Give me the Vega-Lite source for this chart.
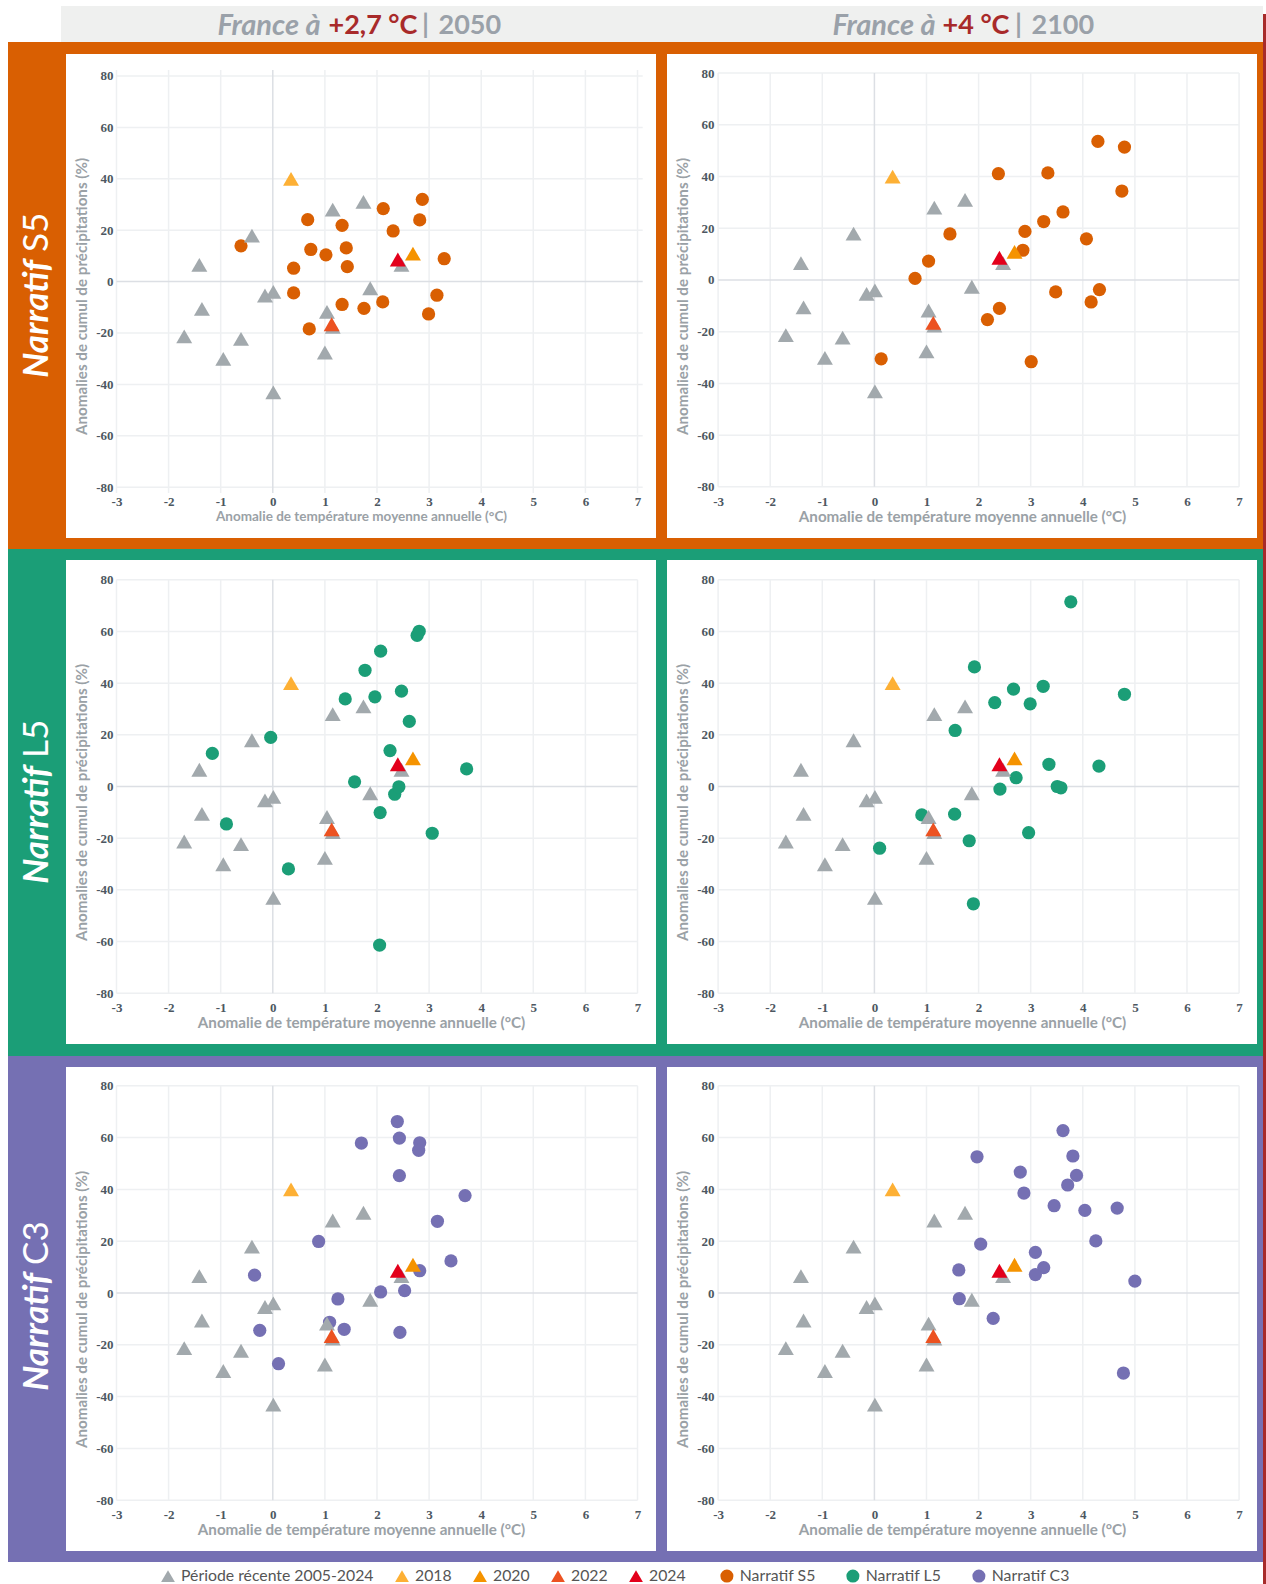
{
  "$schema": "https://vega.github.io/schema/vega-lite/v6.json",
  "padding": {"left": 8, "top": 3, "right": 0, "bottom": 0},
  "background": "white",
  "spacing": 0,
  "datasets": {
    "one": [{"t": ""}],
    "hist": [
      {"x": -0.40, "y": 17.9, "serie": "Période récente 2005-2024"},
      {"x": -1.41, "y": 6.5, "serie": "Période récente 2005-2024"},
      {"x": -1.36, "y": -10.6, "serie": "Période récente 2005-2024"},
      {"x": -1.70, "y": -21.3, "serie": "Période récente 2005-2024"},
      {"x": -0.61, "y": -22.3, "serie": "Période récente 2005-2024"},
      {"x": -0.95, "y": -30.1, "serie": "Période récente 2005-2024"},
      {"x": 0.01, "y": -43.1, "serie": "Période récente 2005-2024"},
      {"x": -0.15, "y": -5.4, "serie": "Période récente 2005-2024"},
      {"x": 0.01, "y": -4.0, "serie": "Période récente 2005-2024"},
      {"x": 1.15, "y": 28.0, "serie": "Période récente 2005-2024"},
      {"x": 1.74, "y": 31.0, "serie": "Période récente 2005-2024"},
      {"x": 1.87, "y": -2.6, "serie": "Période récente 2005-2024"},
      {"x": 1.04, "y": -11.8, "serie": "Période récente 2005-2024"},
      {"x": 1.00, "y": -27.6, "serie": "Période récente 2005-2024"},
      {"x": 2.47, "y": 6.5, "serie": "Période récente 2005-2024"},
      {"x": 1.15, "y": -17.6, "serie": "Période récente 2005-2024"},
      {"x": 0.35, "y": 40.0, "serie": "2018"},
      {"x": 2.69, "y": 10.9, "serie": "2020"},
      {"x": 1.13, "y": -16.6, "serie": "2022"},
      {"x": 2.40, "y": 8.6, "serie": "2024"}
    ],
    "s5a": [
      {"x": -0.61, "y": 13.9, "serie": "Narratif S5"},
      {"x": 0.67, "y": 24.1, "serie": "Narratif S5"},
      {"x": 1.33, "y": 21.9, "serie": "Narratif S5"},
      {"x": 2.12, "y": 28.4, "serie": "Narratif S5"},
      {"x": 2.87, "y": 32.0, "serie": "Narratif S5"},
      {"x": 2.82, "y": 24.0, "serie": "Narratif S5"},
      {"x": 2.31, "y": 19.7, "serie": "Narratif S5"},
      {"x": 0.73, "y": 12.5, "serie": "Narratif S5"},
      {"x": 1.02, "y": 10.4, "serie": "Narratif S5"},
      {"x": 1.41, "y": 13.1, "serie": "Narratif S5"},
      {"x": 1.43, "y": 5.8, "serie": "Narratif S5"},
      {"x": 0.40, "y": 5.2, "serie": "Narratif S5"},
      {"x": 3.29, "y": 8.9, "serie": "Narratif S5"},
      {"x": 0.40, "y": -4.4, "serie": "Narratif S5"},
      {"x": 1.33, "y": -8.9, "serie": "Narratif S5"},
      {"x": 1.75, "y": -10.4, "serie": "Narratif S5"},
      {"x": 2.11, "y": -7.9, "serie": "Narratif S5"},
      {"x": 3.15, "y": -5.3, "serie": "Narratif S5"},
      {"x": 2.99, "y": -12.6, "serie": "Narratif S5"},
      {"x": 0.70, "y": -18.4, "serie": "Narratif S5"}
    ],
    "s5b": [
      {"x": 4.29, "y": 53.6, "serie": "Narratif S5"},
      {"x": 4.80, "y": 51.4, "serie": "Narratif S5"},
      {"x": 2.38, "y": 41.1, "serie": "Narratif S5"},
      {"x": 3.33, "y": 41.4, "serie": "Narratif S5"},
      {"x": 4.75, "y": 34.4, "serie": "Narratif S5"},
      {"x": 3.62, "y": 26.3, "serie": "Narratif S5"},
      {"x": 3.25, "y": 22.6, "serie": "Narratif S5"},
      {"x": 2.89, "y": 18.8, "serie": "Narratif S5"},
      {"x": 1.45, "y": 17.8, "serie": "Narratif S5"},
      {"x": 2.85, "y": 11.5, "serie": "Narratif S5"},
      {"x": 1.04, "y": 7.3, "serie": "Narratif S5"},
      {"x": 4.07, "y": 15.9, "serie": "Narratif S5"},
      {"x": 0.78, "y": 0.6, "serie": "Narratif S5"},
      {"x": 3.48, "y": -4.6, "serie": "Narratif S5"},
      {"x": 4.32, "y": -3.7, "serie": "Narratif S5"},
      {"x": 4.16, "y": -8.5, "serie": "Narratif S5"},
      {"x": 2.40, "y": -11.0, "serie": "Narratif S5"},
      {"x": 2.17, "y": -15.3, "serie": "Narratif S5"},
      {"x": 0.13, "y": -30.5, "serie": "Narratif S5"},
      {"x": 3.01, "y": -31.6, "serie": "Narratif S5"}
    ],
    "l5a": [
      {"x": 2.81, "y": 60.1, "serie": "Narratif L5"},
      {"x": 2.77, "y": 58.5, "serie": "Narratif L5"},
      {"x": 2.07, "y": 52.4, "serie": "Narratif L5"},
      {"x": 1.77, "y": 45.0, "serie": "Narratif L5"},
      {"x": 2.47, "y": 36.9, "serie": "Narratif L5"},
      {"x": 1.39, "y": 33.9, "serie": "Narratif L5"},
      {"x": 1.96, "y": 34.7, "serie": "Narratif L5"},
      {"x": 2.62, "y": 25.2, "serie": "Narratif L5"},
      {"x": -0.04, "y": 19.0, "serie": "Narratif L5"},
      {"x": -1.16, "y": 12.8, "serie": "Narratif L5"},
      {"x": 2.25, "y": 13.9, "serie": "Narratif L5"},
      {"x": 3.72, "y": 6.8, "serie": "Narratif L5"},
      {"x": 1.57, "y": 1.8, "serie": "Narratif L5"},
      {"x": 2.34, "y": -3.0, "serie": "Narratif L5"},
      {"x": 2.42, "y": -0.1, "serie": "Narratif L5"},
      {"x": 2.06, "y": -10.1, "serie": "Narratif L5"},
      {"x": -0.89, "y": -14.5, "serie": "Narratif L5"},
      {"x": 3.06, "y": -18.1, "serie": "Narratif L5"},
      {"x": 0.30, "y": -31.9, "serie": "Narratif L5"},
      {"x": 2.05, "y": -61.4, "serie": "Narratif L5"}
    ],
    "l5b": [
      {"x": 3.77, "y": 71.5, "serie": "Narratif L5"},
      {"x": 1.92, "y": 46.3, "serie": "Narratif L5"},
      {"x": 2.67, "y": 37.7, "serie": "Narratif L5"},
      {"x": 3.24, "y": 38.8, "serie": "Narratif L5"},
      {"x": 2.31, "y": 32.5, "serie": "Narratif L5"},
      {"x": 2.99, "y": 32.0, "serie": "Narratif L5"},
      {"x": 4.80, "y": 35.7, "serie": "Narratif L5"},
      {"x": 1.55, "y": 21.7, "serie": "Narratif L5"},
      {"x": 3.35, "y": 8.6, "serie": "Narratif L5"},
      {"x": 4.31, "y": 7.9, "serie": "Narratif L5"},
      {"x": 2.72, "y": 3.4, "serie": "Narratif L5"},
      {"x": 2.41, "y": -1.0, "serie": "Narratif L5"},
      {"x": 3.51, "y": 0.0, "serie": "Narratif L5"},
      {"x": 3.58, "y": -0.5, "serie": "Narratif L5"},
      {"x": 0.91, "y": -11.0, "serie": "Narratif L5"},
      {"x": 1.54, "y": -10.7, "serie": "Narratif L5"},
      {"x": 1.82, "y": -21.0, "serie": "Narratif L5"},
      {"x": 2.96, "y": -17.9, "serie": "Narratif L5"},
      {"x": 0.10, "y": -23.9, "serie": "Narratif L5"},
      {"x": 1.90, "y": -45.4, "serie": "Narratif L5"}
    ],
    "c3a": [
      {"x": 2.39, "y": 66.2, "serie": "Narratif C3"},
      {"x": 2.43, "y": 59.8, "serie": "Narratif C3"},
      {"x": 1.70, "y": 57.9, "serie": "Narratif C3"},
      {"x": 2.82, "y": 58.0, "serie": "Narratif C3"},
      {"x": 2.80, "y": 55.1, "serie": "Narratif C3"},
      {"x": 2.43, "y": 45.3, "serie": "Narratif C3"},
      {"x": 3.69, "y": 37.6, "serie": "Narratif C3"},
      {"x": 3.16, "y": 27.7, "serie": "Narratif C3"},
      {"x": 0.88, "y": 19.9, "serie": "Narratif C3"},
      {"x": 3.42, "y": 12.4, "serie": "Narratif C3"},
      {"x": -0.35, "y": 6.9, "serie": "Narratif C3"},
      {"x": 2.82, "y": 8.6, "serie": "Narratif C3"},
      {"x": 2.07, "y": 0.4, "serie": "Narratif C3"},
      {"x": 2.53, "y": 0.9, "serie": "Narratif C3"},
      {"x": 1.25, "y": -2.3, "serie": "Narratif C3"},
      {"x": 1.09, "y": -11.3, "serie": "Narratif C3"},
      {"x": 1.37, "y": -14.0, "serie": "Narratif C3"},
      {"x": -0.25, "y": -14.4, "serie": "Narratif C3"},
      {"x": 2.44, "y": -15.2, "serie": "Narratif C3"},
      {"x": 0.11, "y": -27.3, "serie": "Narratif C3"}
    ],
    "c3b": [
      {"x": 3.62, "y": 62.7, "serie": "Narratif C3"},
      {"x": 1.97, "y": 52.6, "serie": "Narratif C3"},
      {"x": 3.81, "y": 52.9, "serie": "Narratif C3"},
      {"x": 2.80, "y": 46.7, "serie": "Narratif C3"},
      {"x": 3.88, "y": 45.4, "serie": "Narratif C3"},
      {"x": 3.71, "y": 41.7, "serie": "Narratif C3"},
      {"x": 2.87, "y": 38.6, "serie": "Narratif C3"},
      {"x": 3.45, "y": 33.7, "serie": "Narratif C3"},
      {"x": 4.04, "y": 31.9, "serie": "Narratif C3"},
      {"x": 4.66, "y": 32.8, "serie": "Narratif C3"},
      {"x": 4.25, "y": 20.1, "serie": "Narratif C3"},
      {"x": 2.04, "y": 18.9, "serie": "Narratif C3"},
      {"x": 3.09, "y": 15.7, "serie": "Narratif C3"},
      {"x": 1.62, "y": 8.9, "serie": "Narratif C3"},
      {"x": 3.25, "y": 9.8, "serie": "Narratif C3"},
      {"x": 3.09, "y": 7.1, "serie": "Narratif C3"},
      {"x": 5.00, "y": 4.6, "serie": "Narratif C3"},
      {"x": 1.63, "y": -2.2, "serie": "Narratif C3"},
      {"x": 2.28, "y": -9.8, "serie": "Narratif C3"},
      {"x": 4.78, "y": -30.9, "serie": "Narratif C3"}
    ],
    "grid": [
      {"x": -3, "x2": -3, "y": -80, "y2": 80}, {"x": -2, "x2": -2, "y": -80, "y2": 80},
      {"x": -1, "x2": -1, "y": -80, "y2": 80}, {"x": 1, "x2": 1, "y": -80, "y2": 80},
      {"x": 2, "x2": 2, "y": -80, "y2": 80}, {"x": 3, "x2": 3, "y": -80, "y2": 80},
      {"x": 4, "x2": 4, "y": -80, "y2": 80}, {"x": 5, "x2": 5, "y": -80, "y2": 80},
      {"x": 6, "x2": 6, "y": -80, "y2": 80}, {"x": 7, "x2": 7, "y": -80, "y2": 80},
      {"x": -3, "x2": 7, "y": -80, "y2": -80}, {"x": -3, "x2": 7, "y": -60, "y2": -60},
      {"x": -3, "x2": 7, "y": -40, "y2": -40}, {"x": -3, "x2": 7, "y": -20, "y2": -20},
      {"x": -3, "x2": 7, "y": 20, "y2": 20}, {"x": -3, "x2": 7, "y": 40, "y2": 40},
      {"x": -3, "x2": 7, "y": 60, "y2": 60}, {"x": -3, "x2": 7, "y": 80, "y2": 80},
      {"x": 0, "x2": 0, "y": -80, "y2": 80}, {"x": -3, "x2": 7, "y": 0, "y2": 0}
    ],
    "gridWide": [
      {"x": -3, "x2": -3, "y": -82.3, "y2": 82.3}, {"x": -2, "x2": -2, "y": -82.3, "y2": 82.3},
      {"x": -1, "x2": -1, "y": -82.3, "y2": 82.3}, {"x": 1, "x2": 1, "y": -82.3, "y2": 82.3},
      {"x": 2, "x2": 2, "y": -82.3, "y2": 82.3}, {"x": 3, "x2": 3, "y": -82.3, "y2": 82.3},
      {"x": 4, "x2": 4, "y": -82.3, "y2": 82.3}, {"x": 5, "x2": 5, "y": -82.3, "y2": 82.3},
      {"x": 6, "x2": 6, "y": -82.3, "y2": 82.3}, {"x": 7, "x2": 7, "y": -82.3, "y2": 82.3},
      {"x": -3, "x2": 7.1, "y": -80, "y2": -80}, {"x": -3, "x2": 7.1, "y": -60, "y2": -60},
      {"x": -3, "x2": 7.1, "y": -40, "y2": -40}, {"x": -3, "x2": 7.1, "y": -20, "y2": -20},
      {"x": -3, "x2": 7.1, "y": 20, "y2": 20}, {"x": -3, "x2": 7.1, "y": 40, "y2": 40},
      {"x": -3, "x2": 7.1, "y": 60, "y2": 60}, {"x": -3, "x2": 7.1, "y": 80, "y2": 80},
      {"x": 0, "x2": 0, "y": -82.3, "y2": 82.3}, {"x": -3, "x2": 7.1, "y": 0, "y2": 0}
    ]
  },
  "hconcat": [
    {
      "spacing": -1,
      "vconcat": [
        {
          "spacing": 0,
          "bounds": "flush",
          "hconcat": [
            {"width": 53, "height": 36, "view": {"stroke": null}, "data": {"name": "one"}, "mark": "text", "encoding": {"text": {"value": ""}}},
            {
              "width": 595, "height": 36, "view": {"fill": "#eff0ef", "stroke": null}, "data": {"name": "one"},
              "layer": [
                {"mark": {"type": "text", "font": "Lato", "fontStyle": "italic", "fontWeight": "bold", "fontSize": 29, "color": "#9aa1a9", "align": "right", "baseline": "middle", "dx": -38, "dy": 2}, "encoding": {"text": {"value": "France à"}}},
                {"mark": {"type": "text", "font": "Lato", "fontWeight": "bold", "fontSize": 27, "color": "#a82a2a", "align": "left", "baseline": "middle", "dx": -30, "dy": 2}, "encoding": {"text": {"value": "+2,7 °C"}}},
                {"mark": {"type": "text", "font": "Lato", "fontWeight": "bold", "fontSize": 27, "color": "#9aa1a9", "align": "center", "baseline": "middle", "dx": 67, "dy": 2}, "encoding": {"text": {"value": "|"}}},
                {"mark": {"type": "text", "font": "Lato", "fontWeight": "bold", "fontSize": 27, "color": "#9aa1a9", "align": "left", "baseline": "middle", "dx": 80, "dy": 2}, "encoding": {"text": {"value": "2050"}}}
              ]
            },
            {
              "width": 607, "height": 36, "view": {"fill": "#eff0ef", "stroke": null}, "data": {"name": "one"},
              "layer": [
                {"mark": {"type": "text", "font": "Lato", "fontStyle": "italic", "fontWeight": "bold", "fontSize": 29, "color": "#9aa1a9", "align": "right", "baseline": "middle", "dx": -24, "dy": 2}, "encoding": {"text": {"value": "France à"}}},
                {"mark": {"type": "text", "font": "Lato", "fontWeight": "bold", "fontSize": 27, "color": "#a82a2a", "align": "left", "baseline": "middle", "dx": -17, "dy": 2}, "encoding": {"text": {"value": "+4 °C"}}},
                {"mark": {"type": "text", "font": "Lato", "fontWeight": "bold", "fontSize": 27, "color": "#9aa1a9", "align": "center", "baseline": "middle", "dx": 59, "dy": 2}, "encoding": {"text": {"value": "|"}}},
                {"mark": {"type": "text", "font": "Lato", "fontWeight": "bold", "fontSize": 27, "color": "#9aa1a9", "align": "left", "baseline": "middle", "dx": 72, "dy": 2}, "encoding": {"text": {"value": "2100"}}}
              ]
            }
          ]
        },
        {"width": 1255, "height": 12, "view": {"fill": "#d95f02", "stroke": null}, "data": {"name": "one"}, "mark": "text", "encoding": {"text": {"value": ""}}},
        {
          "spacing": 0,
          "bounds": "flush",
          "hconcat": [
            {
              "width": 58, "height": 484, "view": {"fill": "#d95f02", "stroke": null}, "data": {"name": "one"},
              "layer": [
                {"mark": {"type": "text", "angle": 270, "font": "Lato", "fontStyle": "italic", "fontWeight": "bold", "fontSize": 35, "color": "white", "align": "right", "baseline": "middle", "dx": 36}, "encoding": {"text": {"value": "Narratif"}}},
                {"mark": {"type": "text", "angle": 270, "font": "Lato", "fontSize": 35, "color": "white", "align": "left", "baseline": "middle", "dx": 44}, "encoding": {"text": {"value": "S5"}}}
              ]
            },
            {
              "width": 590, "height": 484, "view": {"fill": "white", "stroke": null},
              "encoding": {
                "x": {"field": "x", "type": "quantitative", "scale": {"domain": [-3.969, 7.355], "nice": false, "zero": false}, "axis": {"orient": "bottom", "offset": -51, "values": [-3, -2, -1, 0, 1, 2, 3, 4, 5, 6, 7], "labelExpr": "'' + datum.value", "labelPadding": 8, "titlePadding": 1, "titleFontSize": 13.5, "title": "Anomalie de température moyenne annuelle (°C)"}},
                "y": {"field": "y", "type": "quantitative", "scale": {"domain": [-99.77, 88.56], "nice": false, "zero": false}, "axis": {"orient": "left", "offset": -51, "values": [-80, -60, -40, -20, 0, 20, 40, 60, 80], "labelExpr": "'' + datum.value", "labelPadding": 4, "titlePadding": 6, "title": "Anomalies de cumul de précipitations (%)"}}
              },
              "layer": [
                {"data": {"name": "gridWide"}, "mark": {"type": "rule", "strokeWidth": 1.5}, "encoding": {"x2": {"field": "x2"}, "y2": {"field": "y2"}, "color": {"condition": {"test": "(datum.x == 0 && datum.x2 == 0) || (datum.y == 0 && datum.y2 == 0)", "value": "#dcdfe4"}, "value": "#eef0f2"}}},
                {"data": {"name": "s5a"}, "mark": {"type": "point", "filled": true, "opacity": 1, "shape": "circle", "size": 175}, "encoding": {"fill": {"field": "serie", "type": "nominal", "scale": {"domain": ["Narratif S5", "Narratif L5", "Narratif C3"], "range": ["#d95f02", "#1b9e77", "#7570b3"]}, "legend": {"title": null, "orient": "none", "legendX": 711, "legendY": 1562, "direction": "horizontal", "columns": 3, "gridAlign": "each", "columnPadding": 29, "symbolType": "circle", "symbolSize": 170, "labelFont": "Lato", "labelFontSize": 15.8, "labelColor": "#555", "labelOffset": 5, "labelLimit": 400}}}},
                {"data": {"name": "hist"}, "mark": {"type": "point", "filled": true, "opacity": 1, "shape": "triangle-up", "size": 255}, "encoding": {"color": {"field": "serie", "type": "nominal", "sort": null, "scale": {"domain": ["Période récente 2005-2024", "2018", "2020", "2022", "2024"], "range": ["#a2a9ad", "#fdb035", "#f59300", "#ec5221", "#e3001b"]}, "legend": {"title": null, "orient": "none", "legendX": 152, "legendY": 1562, "direction": "horizontal", "columns": 5, "gridAlign": "each", "columnPadding": 20, "symbolType": "triangle-up", "symbolSize": 190, "labelFont": "Lato", "labelFontSize": 15.8, "labelColor": "#555", "labelOffset": 5, "labelLimit": 400}}}}
              ]
            },
            {"width": 11, "height": 484, "view": {"fill": "#d95f02", "stroke": null}, "data": {"name": "one"}, "mark": "text", "encoding": {"text": {"value": ""}}},
            {
              "width": 590, "height": 484, "view": {"fill": "white", "stroke": null},
              "encoding": {
                "x": {"field": "x", "type": "quantitative", "scale": {"domain": [-3.981, 7.344], "nice": false, "zero": false}, "axis": {"orient": "bottom", "offset": -51, "values": [-3, -2, -1, 0, 1, 2, 3, 4, 5, 6, 7], "labelExpr": "'' + datum.value", "labelPadding": 8, "titlePadding": 1, "title": "Anomalie de température moyenne annuelle (°C)"}},
                "y": {"field": "y", "type": "quantitative", "scale": {"domain": [-99.77, 87.39], "nice": false, "zero": false}, "axis": {"orient": "left", "offset": -51, "values": [-80, -60, -40, -20, 0, 20, 40, 60, 80], "labelExpr": "'' + datum.value", "labelPadding": 4, "titlePadding": 6, "title": "Anomalies de cumul de précipitations (%)"}}
              },
              "layer": [
                {"data": {"name": "grid"}, "mark": {"type": "rule", "strokeWidth": 1.5}, "encoding": {"x2": {"field": "x2"}, "y2": {"field": "y2"}, "color": {"condition": {"test": "(datum.x == 0 && datum.x2 == 0) || (datum.y == 0 && datum.y2 == 0)", "value": "#dcdfe4"}, "value": "#eef0f2"}}},
                {"data": {"name": "s5b"}, "mark": {"type": "point", "filled": true, "opacity": 1, "shape": "circle", "size": 175}, "encoding": {"fill": {"field": "serie", "type": "nominal", "scale": {"domain": ["Narratif S5", "Narratif L5", "Narratif C3"], "range": ["#d95f02", "#1b9e77", "#7570b3"]}}}},
                {"data": {"name": "hist"}, "mark": {"type": "point", "filled": true, "opacity": 1, "shape": "triangle-up", "size": 255}, "encoding": {"color": {"field": "serie", "type": "nominal", "sort": null, "scale": {"domain": ["Période récente 2005-2024", "2018", "2020", "2022", "2024"], "range": ["#a2a9ad", "#fdb035", "#f59300", "#ec5221", "#e3001b"]}}}}
              ]
            },
            {"width": 6, "height": 484, "view": {"fill": "#d95f02", "stroke": null}, "data": {"name": "one"}, "mark": "text", "encoding": {"text": {"value": ""}}}
          ]
        },
        {"width": 1255, "height": 11, "view": {"fill": "#d95f02", "stroke": null}, "data": {"name": "one"}, "mark": "text", "encoding": {"text": {"value": ""}}},
        {"width": 1255, "height": 11, "view": {"fill": "#1b9e77", "stroke": null}, "data": {"name": "one"}, "mark": "text", "encoding": {"text": {"value": ""}}},
        {
          "spacing": 0,
          "bounds": "flush",
          "hconcat": [
            {
              "width": 58, "height": 484, "view": {"fill": "#1b9e77", "stroke": null}, "data": {"name": "one"},
              "layer": [
                {"mark": {"type": "text", "angle": 270, "font": "Lato", "fontStyle": "italic", "fontWeight": "bold", "fontSize": 35, "color": "white", "align": "right", "baseline": "middle", "dx": 36}, "encoding": {"text": {"value": "Narratif"}}},
                {"mark": {"type": "text", "angle": 270, "font": "Lato", "fontSize": 35, "color": "white", "align": "left", "baseline": "middle", "dx": 44}, "encoding": {"text": {"value": "L5"}}}
              ]
            },
            {
              "width": 590, "height": 484, "view": {"fill": "white", "stroke": null},
              "encoding": {
                "x": {"field": "x", "type": "quantitative", "scale": {"domain": [-3.969, 7.355], "nice": false, "zero": false}, "axis": {"orient": "bottom", "offset": -51, "values": [-3, -2, -1, 0, 1, 2, 3, 4, 5, 6, 7], "labelExpr": "'' + datum.value", "labelPadding": 8, "titlePadding": 1, "title": "Anomalie de température moyenne annuelle (°C)"}},
                "y": {"field": "y", "type": "quantitative", "scale": {"domain": [-99.69, 87.69], "nice": false, "zero": false}, "axis": {"orient": "left", "offset": -51, "values": [-80, -60, -40, -20, 0, 20, 40, 60, 80], "labelExpr": "'' + datum.value", "labelPadding": 4, "titlePadding": 6, "title": "Anomalies de cumul de précipitations (%)"}}
              },
              "layer": [
                {"data": {"name": "grid"}, "mark": {"type": "rule", "strokeWidth": 1.5}, "encoding": {"x2": {"field": "x2"}, "y2": {"field": "y2"}, "color": {"condition": {"test": "(datum.x == 0 && datum.x2 == 0) || (datum.y == 0 && datum.y2 == 0)", "value": "#dcdfe4"}, "value": "#eef0f2"}}},
                {"data": {"name": "l5a"}, "mark": {"type": "point", "filled": true, "opacity": 1, "shape": "circle", "size": 175}, "encoding": {"fill": {"field": "serie", "type": "nominal", "scale": {"domain": ["Narratif S5", "Narratif L5", "Narratif C3"], "range": ["#d95f02", "#1b9e77", "#7570b3"]}}}},
                {"data": {"name": "hist"}, "mark": {"type": "point", "filled": true, "opacity": 1, "shape": "triangle-up", "size": 255}, "encoding": {"color": {"field": "serie", "type": "nominal", "sort": null, "scale": {"domain": ["Période récente 2005-2024", "2018", "2020", "2022", "2024"], "range": ["#a2a9ad", "#fdb035", "#f59300", "#ec5221", "#e3001b"]}}}}
              ]
            },
            {"width": 11, "height": 484, "view": {"fill": "#1b9e77", "stroke": null}, "data": {"name": "one"}, "mark": "text", "encoding": {"text": {"value": ""}}},
            {
              "width": 590, "height": 484, "view": {"fill": "white", "stroke": null},
              "encoding": {
                "x": {"field": "x", "type": "quantitative", "scale": {"domain": [-3.981, 7.344], "nice": false, "zero": false}, "axis": {"orient": "bottom", "offset": -51, "values": [-3, -2, -1, 0, 1, 2, 3, 4, 5, 6, 7], "labelExpr": "'' + datum.value", "labelPadding": 8, "titlePadding": 1, "title": "Anomalie de température moyenne annuelle (°C)"}},
                "y": {"field": "y", "type": "quantitative", "scale": {"domain": [-99.69, 87.69], "nice": false, "zero": false}, "axis": {"orient": "left", "offset": -51, "values": [-80, -60, -40, -20, 0, 20, 40, 60, 80], "labelExpr": "'' + datum.value", "labelPadding": 4, "titlePadding": 6, "title": "Anomalies de cumul de précipitations (%)"}}
              },
              "layer": [
                {"data": {"name": "grid"}, "mark": {"type": "rule", "strokeWidth": 1.5}, "encoding": {"x2": {"field": "x2"}, "y2": {"field": "y2"}, "color": {"condition": {"test": "(datum.x == 0 && datum.x2 == 0) || (datum.y == 0 && datum.y2 == 0)", "value": "#dcdfe4"}, "value": "#eef0f2"}}},
                {"data": {"name": "l5b"}, "mark": {"type": "point", "filled": true, "opacity": 1, "shape": "circle", "size": 175}, "encoding": {"fill": {"field": "serie", "type": "nominal", "scale": {"domain": ["Narratif S5", "Narratif L5", "Narratif C3"], "range": ["#d95f02", "#1b9e77", "#7570b3"]}}}},
                {"data": {"name": "hist"}, "mark": {"type": "point", "filled": true, "opacity": 1, "shape": "triangle-up", "size": 255}, "encoding": {"color": {"field": "serie", "type": "nominal", "sort": null, "scale": {"domain": ["Période récente 2005-2024", "2018", "2020", "2022", "2024"], "range": ["#a2a9ad", "#fdb035", "#f59300", "#ec5221", "#e3001b"]}}}}
              ]
            },
            {"width": 6, "height": 484, "view": {"fill": "#1b9e77", "stroke": null}, "data": {"name": "one"}, "mark": "text", "encoding": {"text": {"value": ""}}}
          ]
        },
        {"width": 1255, "height": 12, "view": {"fill": "#1b9e77", "stroke": null}, "data": {"name": "one"}, "mark": "text", "encoding": {"text": {"value": ""}}},
        {"width": 1255, "height": 11, "view": {"fill": "#7570b3", "stroke": null}, "data": {"name": "one"}, "mark": "text", "encoding": {"text": {"value": ""}}},
        {
          "spacing": 0,
          "bounds": "flush",
          "hconcat": [
            {
              "width": 58, "height": 484, "view": {"fill": "#7570b3", "stroke": null}, "data": {"name": "one"},
              "layer": [
                {"mark": {"type": "text", "angle": 270, "font": "Lato", "fontStyle": "italic", "fontWeight": "bold", "fontSize": 35, "color": "white", "align": "right", "baseline": "middle", "dx": 36}, "encoding": {"text": {"value": "Narratif"}}},
                {"mark": {"type": "text", "angle": 270, "font": "Lato", "fontSize": 35, "color": "white", "align": "left", "baseline": "middle", "dx": 44}, "encoding": {"text": {"value": "C3"}}}
              ]
            },
            {
              "width": 590, "height": 484, "view": {"fill": "white", "stroke": null},
              "encoding": {
                "x": {"field": "x", "type": "quantitative", "scale": {"domain": [-3.969, 7.355], "nice": false, "zero": false}, "axis": {"orient": "bottom", "offset": -51, "values": [-3, -2, -1, 0, 1, 2, 3, 4, 5, 6, 7], "labelExpr": "'' + datum.value", "labelPadding": 8, "titlePadding": 1, "title": "Anomalie de température moyenne annuelle (°C)"}},
                "y": {"field": "y", "type": "quantitative", "scale": {"domain": [-99.61, 87.26], "nice": false, "zero": false}, "axis": {"orient": "left", "offset": -51, "values": [-80, -60, -40, -20, 0, 20, 40, 60, 80], "labelExpr": "'' + datum.value", "labelPadding": 4, "titlePadding": 6, "title": "Anomalies de cumul de précipitations (%)"}}
              },
              "layer": [
                {"data": {"name": "grid"}, "mark": {"type": "rule", "strokeWidth": 1.5}, "encoding": {"x2": {"field": "x2"}, "y2": {"field": "y2"}, "color": {"condition": {"test": "(datum.x == 0 && datum.x2 == 0) || (datum.y == 0 && datum.y2 == 0)", "value": "#dcdfe4"}, "value": "#eef0f2"}}},
                {"data": {"name": "c3a"}, "mark": {"type": "point", "filled": true, "opacity": 1, "shape": "circle", "size": 175}, "encoding": {"fill": {"field": "serie", "type": "nominal", "scale": {"domain": ["Narratif S5", "Narratif L5", "Narratif C3"], "range": ["#d95f02", "#1b9e77", "#7570b3"]}}}},
                {"data": {"name": "hist"}, "mark": {"type": "point", "filled": true, "opacity": 1, "shape": "triangle-up", "size": 255}, "encoding": {"color": {"field": "serie", "type": "nominal", "sort": null, "scale": {"domain": ["Période récente 2005-2024", "2018", "2020", "2022", "2024"], "range": ["#a2a9ad", "#fdb035", "#f59300", "#ec5221", "#e3001b"]}}}}
              ]
            },
            {"width": 11, "height": 484, "view": {"fill": "#7570b3", "stroke": null}, "data": {"name": "one"}, "mark": "text", "encoding": {"text": {"value": ""}}},
            {
              "width": 590, "height": 484, "view": {"fill": "white", "stroke": null},
              "encoding": {
                "x": {"field": "x", "type": "quantitative", "scale": {"domain": [-3.981, 7.344], "nice": false, "zero": false}, "axis": {"orient": "bottom", "offset": -51, "values": [-3, -2, -1, 0, 1, 2, 3, 4, 5, 6, 7], "labelExpr": "'' + datum.value", "labelPadding": 8, "titlePadding": 1, "title": "Anomalie de température moyenne annuelle (°C)"}},
                "y": {"field": "y", "type": "quantitative", "scale": {"domain": [-99.61, 87.26], "nice": false, "zero": false}, "axis": {"orient": "left", "offset": -51, "values": [-80, -60, -40, -20, 0, 20, 40, 60, 80], "labelExpr": "'' + datum.value", "labelPadding": 4, "titlePadding": 6, "title": "Anomalies de cumul de précipitations (%)"}}
              },
              "layer": [
                {"data": {"name": "grid"}, "mark": {"type": "rule", "strokeWidth": 1.5}, "encoding": {"x2": {"field": "x2"}, "y2": {"field": "y2"}, "color": {"condition": {"test": "(datum.x == 0 && datum.x2 == 0) || (datum.y == 0 && datum.y2 == 0)", "value": "#dcdfe4"}, "value": "#eef0f2"}}},
                {"data": {"name": "c3b"}, "mark": {"type": "point", "filled": true, "opacity": 1, "shape": "circle", "size": 175}, "encoding": {"fill": {"field": "serie", "type": "nominal", "scale": {"domain": ["Narratif S5", "Narratif L5", "Narratif C3"], "range": ["#d95f02", "#1b9e77", "#7570b3"]}}}},
                {"data": {"name": "hist"}, "mark": {"type": "point", "filled": true, "opacity": 1, "shape": "triangle-up", "size": 255}, "encoding": {"color": {"field": "serie", "type": "nominal", "sort": null, "scale": {"domain": ["Période récente 2005-2024", "2018", "2020", "2022", "2024"], "range": ["#a2a9ad", "#fdb035", "#f59300", "#ec5221", "#e3001b"]}}}}
              ]
            },
            {"width": 6, "height": 484, "view": {"fill": "#7570b3", "stroke": null}, "data": {"name": "one"}, "mark": "text", "encoding": {"text": {"value": ""}}}
          ]
        },
        {"width": 1255, "height": 11, "view": {"fill": "#7570b3", "stroke": null}, "data": {"name": "one"}, "mark": "text", "encoding": {"text": {"value": ""}}}
      ]
    },
    {
      "spacing": 0,
      "vconcat": [
        {"width": 3, "height": 6, "view": {"stroke": null}, "data": {"name": "one"}, "mark": "text", "encoding": {"text": {"value": ""}}},
        {"width": 3, "height": 1572, "view": {"fill": "#a72b2a", "stroke": null}, "data": {"name": "one"}, "mark": "text", "encoding": {"text": {"value": ""}}}
      ]
    }
  ],
  "config": {
    "view": {"stroke": null},
    "axis": {
      "domain": false,
      "ticks": false,
      "grid": false,
      "labelFont": "Liberation Sans Narrow",
      "labelFontWeight": "bold",
      "labelFontSize": 13,
      "labelColor": "#4d5761",
      "labelOverlap": false,
      "labelFlush": false,
      "titleFont": "Lato",
      "titleFontWeight": "bold",
      "titleFontSize": 15.2,
      "titleColor": "#9aa1a6"
    }
  }
}
